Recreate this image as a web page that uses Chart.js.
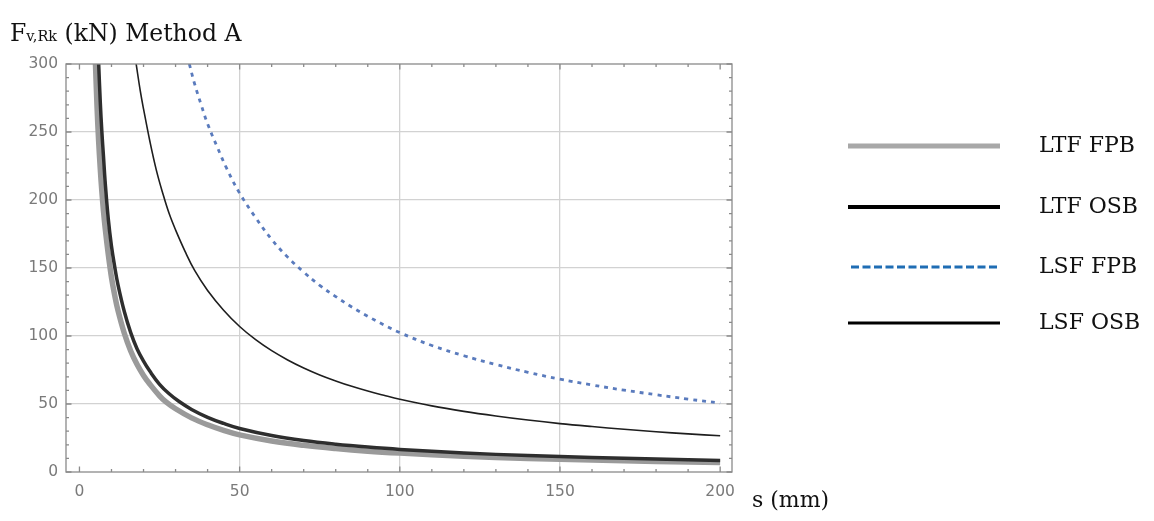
<!DOCTYPE html>
<html>
<head>
<meta charset="utf-8">
<script src="https://cdn.jsdelivr.net/npm/chart.js@4.4.1/dist/chart.umd.min.js"></script>
<style>
  html, body { margin: 0; padding: 0; background: #fff; }
  #wrap { position: relative; width: 1154px; height: 521px; overflow: hidden; }
  #chart { position: absolute; left: 0; top: 0; }
  .serif { position: absolute; font-family: "DejaVu Serif", serif; font-size: 22px; line-height: 22px; color: #111; white-space: nowrap; }
  .serif sub { font-size: 14.5px; vertical-align: 0; }
  .leg { position: absolute; left: 848px; width: 152px; height: 8px; }
</style>
</head>
<body>
<div id="wrap">
  <canvas id="chart" width="1154" height="521"></canvas>
  <div class="serif" style="left:10px; top:22px; font-size:23.5px;">F<sub>v,Rk</sub> (kN) Method A</div>
  <div class="serif" style="left:752px; top:489px;">s (mm)</div>
  <div id="legend"></div>
</div>
<script>
// Series: s (mm) and Fv,Rk (kN)
const ltfFpbS = [5, 5.5, 6, 6.5, 7, 7.5, 8, 9, 10, 11, 12, 14, 16, 18, 20, 22, 25, 27, 30, 35, 40, 45, 50, 60, 70, 80, 90, 100, 120, 140, 160, 180, 200];
const ltfFpbF = [300, 268, 243, 223, 206, 192, 180, 160, 143, 130, 119, 102, 89, 79, 71, 64.5, 56, 51.5, 46.5, 39.8, 34.7, 30.6, 27.3, 22.8, 19.6, 17.2, 15.3, 13.9, 11.6, 10, 8.8, 7.8, 7];

const ltfOsbS = [6, 6.5, 7, 7.5, 8, 9, 10, 11, 12, 14, 16, 18, 20, 22, 25, 28, 31, 35, 40, 45, 50, 60, 70, 80, 90, 100, 120, 140, 160, 180, 200];
const ltfOsbF = [300, 272, 250, 232, 214, 186, 166, 151, 138, 118, 102.5, 90.5, 81.5, 74, 64.5, 57.5, 52, 46, 40.2, 35.7, 32, 26.8, 23.1, 20.4, 18.3, 16.6, 14, 12.1, 10.7, 9.5, 8.4];

const lsfFpbS = [34.3, 36, 38, 40, 43, 46, 50, 55, 60, 65, 70, 75, 80, 85, 90, 95, 100, 110, 120, 130, 140, 150, 160, 170, 180, 190, 200];
const lsfFpbF = [300, 285, 270, 256, 239, 223, 205, 187, 171, 158, 147, 137.2, 129, 121.3, 114.5, 108.2, 102.5, 93, 85.5, 79, 73.3, 68.3, 64, 60.2, 56.8, 53.6, 50.7];

const lsfOsbS = [17.7, 19, 20, 22, 24, 26, 28, 30, 33, 36, 40, 45, 50, 55, 60, 65, 70, 75, 80, 85, 90, 95, 100, 110, 120, 130, 140, 150, 160, 170, 180, 190, 200];
const lsfOsbF = [300, 280, 267, 243, 222, 205, 190, 178, 162, 148, 133.5, 119, 107, 97.3, 89.2, 82.4, 76.5, 71.4, 67, 63, 59.5, 56.4, 53.5, 48.6, 44.6, 41.2, 38.2, 35.6, 33.4, 31.4, 29.6, 28, 26.6];

const seriesNames = ['LTF FPB', 'LTF OSB', 'LSF FPB', 'LSF OSB'];

// Axis ticks
const xTicks = [0, 50, 100, 150, 200];
const yTicks = [0, 50, 100, 150, 200, 250, 300];
const minorStep = 10;

const toPoints = (xs, ys) => xs.map((x, i) => ({ x: x, y: ys[i] }));

const styles = [
    { color: '#9a9a9a', width: 5.5, dash: [], order: 4, legColor: '#a8a8a8', legWidth: 5 },
    { color: '#2e2e2e', width: 3.5, dash: [], order: 3, legColor: '#000', legWidth: 4 },
    { color: '#5a7bbd', width: 2.8, dash: [4, 5], order: 1, legColor: '#1f6db4', legWidth: 3 },
    { color: '#1e1e1e', width: 1.6, dash: [], order: 2, legColor: '#000', legWidth: 3 }
];
const seriesData = [
    toPoints(ltfFpbS, ltfFpbF),
    toPoints(ltfOsbS, ltfOsbF),
    toPoints(lsfFpbS, lsfFpbF),
    toPoints(lsfOsbS, lsfOsbF)
];

// Frame with inward ticks on all four sides (Mathematica style)
const frameTicks = {
    id: 'frameTicks',
    afterDatasetsDraw(chart) {
        const { ctx, chartArea: a, scales: { x, y } } = chart;
        ctx.save();
        ctx.strokeStyle = '#8a8a8a';
        ctx.lineWidth = 1.3;
        ctx.beginPath();
        for (let v = 0; v <= x.max; v += minorStep) {
            const px = x.getPixelForValue(v);
            const len = xTicks.includes(v) ? 5.5 : 3;
            ctx.moveTo(px, a.bottom); ctx.lineTo(px, a.bottom - len);
            ctx.moveTo(px, a.top); ctx.lineTo(px, a.top + len);
        }
        for (let v = 0; v <= y.max; v += minorStep) {
            const py = y.getPixelForValue(v);
            const len = yTicks.includes(v) ? 5.5 : 3;
            ctx.moveTo(a.left, py); ctx.lineTo(a.left + len, py);
            ctx.moveTo(a.right, py); ctx.lineTo(a.right - len, py);
        }
        ctx.stroke();
        ctx.strokeRect(a.left, a.top, a.right - a.left, a.bottom - a.top);
        ctx.restore();
    }
};

const gridColor = (ctx, skip) => skip.includes(ctx.tick.value) ? 'rgba(0,0,0,0)' : '#d2d2d2';

new Chart(document.getElementById('chart'), {
    type: 'scatter',
    data: {
        datasets: seriesData.map((pts, i) => ({
            label: seriesNames[i],
            data: pts,
            showLine: true,
            borderColor: styles[i].color,
            borderWidth: styles[i].width,
            borderDash: styles[i].dash,
            order: styles[i].order,
            pointRadius: 0,
            tension: 0.4,
            clip: 0
        }))
    },
    options: {
        responsive: false,
        animation: false,
        events: [],
        layout: { padding: { left: 0, top: 64, right: 422, bottom: 0 } },
        plugins: { legend: { display: false }, tooltip: { enabled: false } },
        scales: {
            x: {
                type: 'linear',
                min: -4.2,
                max: 203.7,
                afterBuildTicks: s => { s.ticks = xTicks.map(v => ({ value: v })); },
                afterFit: s => { s.height = 49; },
                border: { display: false },
                grid: { color: c => gridColor(c, [0, 200]), lineWidth: 1.3, drawTicks: false },
                ticks: { color: '#7a7a7a', padding: 11, font: { family: 'DejaVu Sans', size: 15.5 } }
            },
            y: {
                type: 'linear',
                min: 0,
                max: 300,
                afterBuildTicks: s => { s.ticks = yTicks.map(v => ({ value: v })); },
                afterFit: s => { s.width = 66; },
                border: { display: false },
                grid: { color: c => gridColor(c, [0, 300]), lineWidth: 1.3, drawTicks: false },
                ticks: { color: '#7a7a7a', padding: 8, font: { family: 'DejaVu Sans', size: 15.5 } }
            }
        }
    },
    plugins: [frameTicks]
});

// Legend on the right
const legendTops = [146, 207, 267, 323];
const legend = document.getElementById('legend');
seriesNames.forEach((name, i) => {
    const st = styles[i];
    const cy = legendTops[i];
    const dash = st.dash.length ? 'stroke-dasharray="8,3.5"' : '';
    legend.insertAdjacentHTML('beforeend',
        `<svg class="leg" style="top:${cy - 4}px" width="152" height="8">` +
        `<line x1="${st.dash.length ? 3 : 0}" y1="4" x2="152" y2="4" stroke="${st.legColor}" stroke-width="${st.legWidth}" ${dash}/></svg>` +
        `<div class="serif" style="left:1039px; top:${cy - 12}px;">${name}</div>`);
});
</script>
</body>
</html>
